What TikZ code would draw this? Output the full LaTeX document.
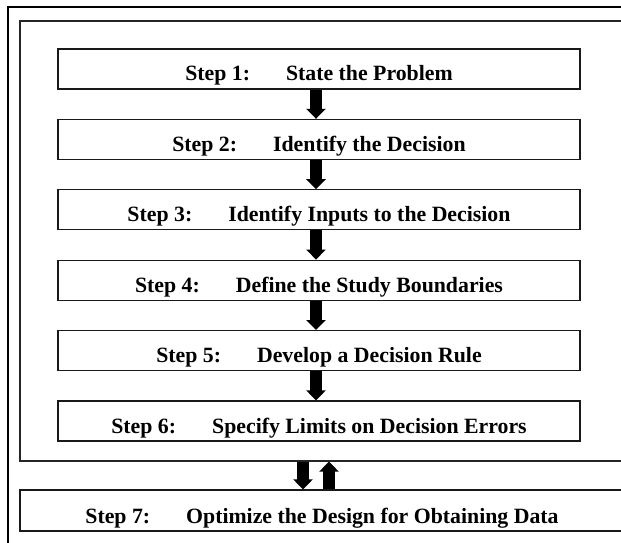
\documentclass[tikz,border=0pt]{standalone}
\usepackage{fontspec}
\setmainfont{Liberation Serif}
\usetikzlibrary{arrows.meta}
% fixed space between the step number and its title
\newcommand\stepgap{\hspace{36pt}}
\begin{document}
\begin{tikzpicture}[x=1pt,y=-1pt,
  steptext/.style={font=\fontsize{21.8}{24}\selectfont\bfseries},
  stepbox/.style={steptext, draw=black!90, line width=1.2pt, inner sep=0pt,
    minimum width=522pt, minimum height=40pt, text height=32pt, text depth=8pt},
  frame/.style={draw=black!85, line width=1.2pt, inner sep=0pt},
  flow/.style={line width=12pt, -{Triangle[width=19pt,length=10pt]}}]
\useasboundingbox (0,0) rectangle (621,543);
\begin{scope}
\clip (0,0) rectangle (621,543);
% outer and inner frames (they run past the right and bottom edges)
\node[frame, draw=black, minimum width=630pt, minimum height=560pt] (outer) at (323,287) {};
\node[frame, minimum width=605pt, minimum height=440pt] (inner) at (322.5,241) {};
% the six planning steps
\node[stepbox] (s1) at (319,69.0)  {Step 1:\stepgap State the Problem};
\node[stepbox] (s2) at (319,139.4) {Step 2:\stepgap Identify the Decision};
\node[stepbox] (s3) at (319,209.8) {Step 3:\stepgap Identify Inputs to the Decision};
\node[stepbox] (s4) at (319,280.2) {Step 4:\stepgap Define the Study Boundaries};
\node[stepbox] (s5) at (319,350.6) {Step 5:\stepgap Develop a Decision Rule};
\node[stepbox] (s6) at (319,421.0) {Step 6:\stepgap Specify Limits on Decision Errors};
% step 7 sits outside the inner frame
\node[stepbox, minimum width=604pt, minimum height=41pt, text height=33pt] (s7) at (322,510.5)
  {Step 7:\stepgap Optimize the Design for Obtaining Data};
% arrows between consecutive steps
\foreach \a/\b in {s1/s2,s2/s3,s3/s4,s4/s5,s5/s6}
  \draw[flow] ([xshift=-3pt]\a.south) -- ([xshift=-3pt]\b.north);
% feedback between the loop and step 7
\draw[flow] ([xshift=-19.5pt]inner.south) -- ([xshift=-19pt]s7.north);
\draw[flow] ([xshift=7pt]s7.north) -- ([xshift=6.5pt]inner.south);
\end{scope}
\end{tikzpicture}
\end{document}
